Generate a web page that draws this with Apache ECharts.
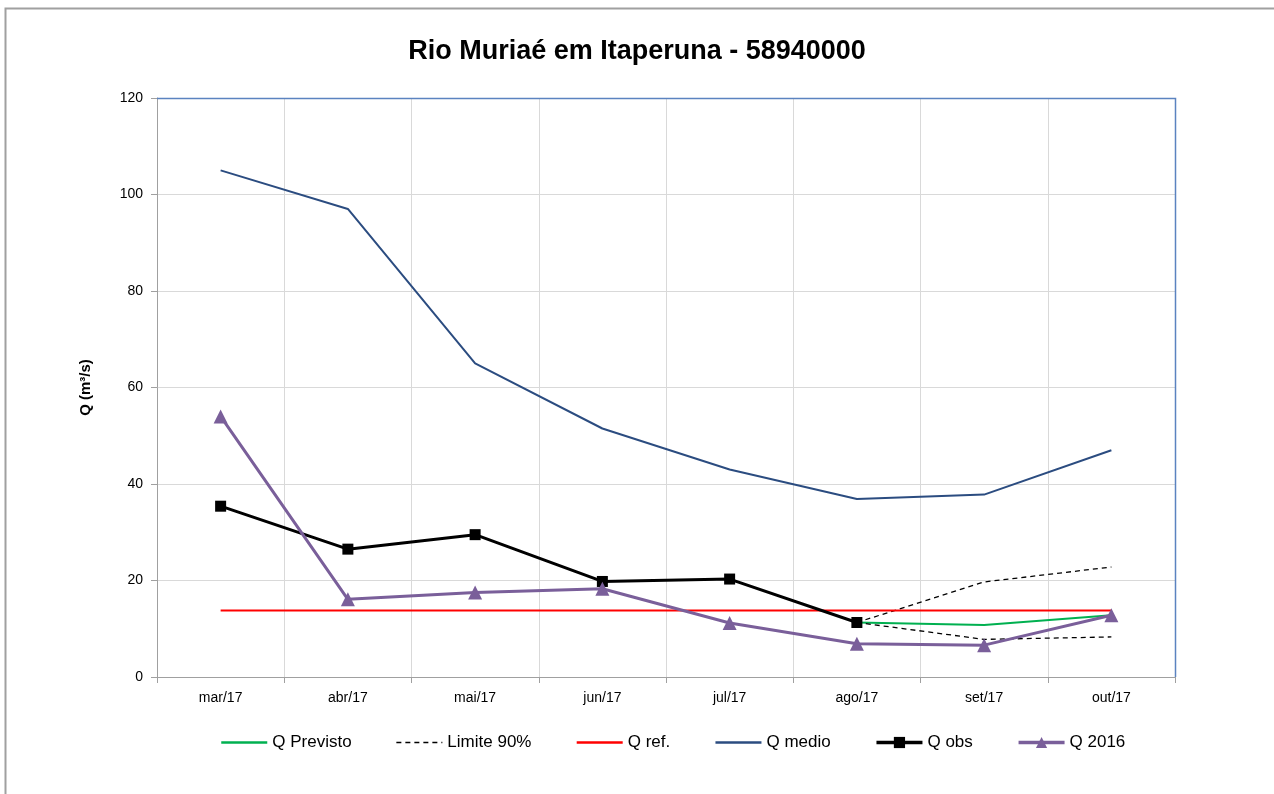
<!DOCTYPE html>
<html lang="pt-BR">
<head>
<meta charset="utf-8" />
<title>Rio Muriaé em Itaperuna</title>
<script src="https://cdn.jsdelivr.net/npm/echarts@6/dist/echarts.min.js"></script>
<style>
  html, body { margin: 0; padding: 0; background: #fff; }
  #chart { width: 1274px; height: 794px; }
</style>
</head>
<body>
<div id="chart"></div>
<script>
var months = ['mar/17', 'abr/17', 'mai/17', 'jun/17', 'jul/17', 'ago/17', 'set/17', 'out/17'];
var qPrevisto = [null, null, null, null, null, 11.3, 10.8, 12.8];
var limiteSup = [null, null, null, null, null, 11.3, 19.7, 22.8];
var limiteInf = [null, null, null, null, null, 11.3, 7.8, 8.3];
var qRef = [13.8, 13.8, 13.8, 13.8, 13.8, 13.8, 13.8, 13.8];
var qMedio = [105, 97, 65, 51.5, 43, 36.9, 37.8, 47];
var qObs = [35.4, 26.5, 29.5, 19.8, 20.3, 11.3, null, null];
var q2016 = [54, 16.1, 17.5, 18.3, 11.2, 6.9, 6.6, 12.8];

var font = '"Liberation Sans", sans-serif';
var chart = echarts.init(document.getElementById('chart'), null, {renderer: 'canvas'});

// plot area box (grid edges)
var gL = 157, gR = 1175, gT = 98, gB = 677;

// legend entries for plain lines: hide the default circle marker
function plainItem(name, width) {
  return {name: name, itemStyle: {opacity: 0}, lineStyle: {width: width}};
}

chart.setOption({
  animation: false,
  backgroundColor: '#fff',
  graphic: [{
    type: 'rect', left: 3, top: 6, z: -10,
    shape: {width: 1400, height: 900},
    style: {fill: 'none', stroke: '#a0a0a0', lineWidth: 2}
  }, {
    type: 'polyline', z: 100, silent: true,
    shape: {points: [[gL, gT + 0.5], [gR + 0.5, gT + 0.5], [gR + 0.5, gB]]},
    style: {fill: null, stroke: '#5b83c0', lineWidth: 1.5}
  }],
  title: {
    text: 'Rio Muriaé em Itaperuna - 58940000',
    left: 'center', top: 33,
    textStyle: {fontFamily: font, fontWeight: 'bold', fontSize: 27, color: '#000'}
  },
  grid: {
    left: gL, right: 1274 - gR, top: gT, bottom: 794 - gB
  },
  legend: {
    bottom: 38, left: 215,
    itemWidth: 46, itemHeight: 14, itemGap: 44,
    textStyle: {fontFamily: font, fontSize: 17, color: '#000'},
    data: [
      plainItem('Q Previsto', 2.5),
      plainItem('Limite 90%', 1.5),
      plainItem('Q ref.', 2.5),
      plainItem('Q medio', 2.5),
      {name: 'Q obs', lineStyle: {width: 3.5}},
      {name: 'Q 2016', lineStyle: {width: 3.5}}
    ]
  },
  xAxis: {
    type: 'category',
    data: months,
    boundaryGap: true,
    axisLine: {lineStyle: {color: '#a0a0a0'}},
    axisTick: {show: true, length: 6, lineStyle: {color: '#a0a0a0'}},
    splitLine: {show: true, lineStyle: {color: '#d9d9d9'}},
    axisLabel: {margin: 14, fontFamily: font, fontSize: 14, color: '#000'}
  },
  yAxis: {
    type: 'value',
    min: 0, max: 120, interval: 20,
    name: 'Q (m³/s)',
    nameLocation: 'middle',
    nameGap: 64,
    nameTextStyle: {fontFamily: font, fontWeight: 'bold', fontSize: 15, color: '#000'},
    axisLine: {show: true, lineStyle: {color: '#a0a0a0'}},
    axisTick: {show: true, length: 6, inside: false, lineStyle: {color: '#a0a0a0'}},
    splitLine: {show: true, lineStyle: {color: '#d9d9d9'}},
    axisLabel: {margin: 14, fontFamily: font, fontSize: 14, color: '#000'}
  },
  series: [
    {name: 'Q Previsto', type: 'line', data: qPrevisto, symbol: 'none',
      lineStyle: {color: '#00b050', width: 2}, itemStyle: {color: '#00b050'}},
    {name: 'Limite 90%', type: 'line', data: limiteSup, symbol: 'none',
      lineStyle: {color: '#000', width: 1.3, type: [5, 4]}, itemStyle: {color: '#000'}},
    {name: 'Limite 90%', type: 'line', data: limiteInf, symbol: 'none',
      lineStyle: {color: '#000', width: 1.3, type: [5, 4]}, itemStyle: {color: '#000'}},
    {name: 'Q ref.', type: 'line', data: qRef, symbol: 'none',
      lineStyle: {color: '#ff0000', width: 2}, itemStyle: {color: '#ff0000'}},
    {name: 'Q medio', type: 'line', data: qMedio, symbol: 'none',
      lineStyle: {color: '#2b4c80', width: 2}, itemStyle: {color: '#2b4c80'}},
    {name: 'Q obs', type: 'line', data: qObs, symbol: 'rect', symbolSize: 11,
      lineStyle: {color: '#000', width: 3}, itemStyle: {color: '#000'}},
    {name: 'Q 2016', type: 'line', data: q2016, symbol: 'triangle', symbolSize: 14,
      lineStyle: {color: '#7a5f9a', width: 3}, itemStyle: {color: '#7a5f9a'}}
  ]
});
</script>
</body>
</html>
